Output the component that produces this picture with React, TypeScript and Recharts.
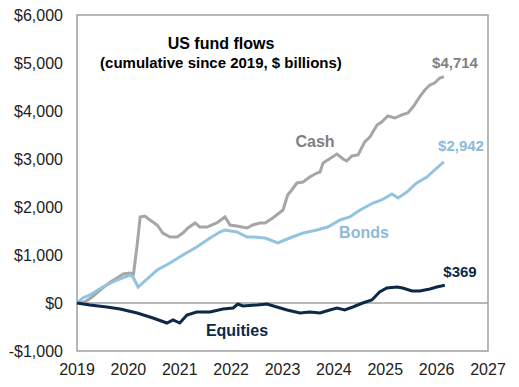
import { LineChart, Line, XAxis, YAxis, ReferenceLine, ReferenceArea } from "recharts";

// [year, $bn cumulative]
const cash: [number, number][] = [
  [2019.0, 0], [2019.15, 20], [2019.3, 130], [2019.5, 313], [2019.65, 440], [2019.78, 521],
  [2019.9, 604], [2020.03, 625], [2020.1, 604], [2020.17, 1200], [2020.23, 1792], [2020.32, 1812],
  [2020.42, 1729], [2020.56, 1625], [2020.67, 1458], [2020.81, 1375], [2020.95, 1375], [2021.06, 1458],
  [2021.16, 1562], [2021.3, 1667], [2021.39, 1583], [2021.53, 1583], [2021.72, 1667], [2021.88, 1792],
  [2021.98, 1625], [2022.11, 1604], [2022.31, 1562], [2022.42, 1625], [2022.56, 1667], [2022.66, 1667],
  [2022.81, 1771], [2023.01, 1937], [2023.1, 2250], [2023.18, 2354], [2023.28, 2500], [2023.4, 2521],
  [2023.53, 2625], [2023.67, 2708], [2023.73, 2729], [2023.79, 2917], [2023.88, 2979], [2024.06, 3104],
  [2024.18, 3000], [2024.25, 2958], [2024.35, 3062], [2024.47, 3083], [2024.6, 3354], [2024.7, 3458],
  [2024.84, 3708], [2024.93, 3771], [2025.05, 3896], [2025.19, 3854], [2025.32, 3917], [2025.44, 3958],
  [2025.54, 4083], [2025.67, 4292], [2025.77, 4437], [2025.87, 4542], [2025.96, 4583], [2026.06, 4687],
  [2026.14, 4714],
];

const bonds: [number, number][] = [
  [2019.0, 0], [2019.12, 110], [2019.25, 167], [2019.5, 333], [2019.78, 479], [2020.03, 583],
  [2020.09, 542], [2020.19, 333], [2020.28, 417], [2020.56, 687], [2020.81, 833], [2021.06, 1000],
  [2021.33, 1167], [2021.59, 1354], [2021.78, 1479], [2021.88, 1521], [2022.11, 1479], [2022.31, 1375],
  [2022.42, 1375], [2022.66, 1354], [2022.91, 1250], [2023.14, 1354], [2023.4, 1458], [2023.67, 1521],
  [2023.88, 1583], [2024.12, 1729], [2024.31, 1792], [2024.51, 1937], [2024.76, 2083], [2024.93, 2146],
  [2025.13, 2271], [2025.25, 2187], [2025.42, 2312], [2025.61, 2500], [2025.81, 2625], [2025.96, 2771],
  [2026.14, 2942],
];

const equities: [number, number][] = [
  [2019.0, 0], [2019.25, -42], [2019.58, -83], [2019.84, -125], [2020.17, -208], [2020.48, -312],
  [2020.75, -417], [2020.87, -354], [2021.0, -417], [2021.14, -250], [2021.33, -187], [2021.59, -187],
  [2021.84, -125], [2022.04, -104], [2022.13, -21], [2022.23, -62], [2022.5, -42], [2022.7, -21],
  [2022.89, -83], [2023.09, -146], [2023.34, -208], [2023.53, -187], [2023.73, -208], [2023.92, -146],
  [2024.06, -104], [2024.21, -146], [2024.37, -83], [2024.56, 0], [2024.74, 62], [2024.89, 229],
  [2025.03, 312], [2025.23, 333], [2025.34, 312], [2025.52, 250], [2025.67, 250], [2025.87, 292],
  [2026.0, 333], [2026.16, 369],
];

const yearTicks = [2019, 2020, 2021, 2022, 2023, 2024, 2025, 2026, 2027];
const valueTicks = [-1000, 0, 1000, 2000, 3000, 4000, 5000, 6000];

const toRows = (pts: [number, number][]) => pts.map(([t, v]) => ({ t, v }));

const font = "'Liberation Sans', Arial, sans-serif";
const CASH = "#a6a6a6";
const CASH_TXT = "#7f7f7f";
const BONDS = "#92c4e0";
const BONDS_TXT = "#8dbad6";
const EQ = "#0c2947";
const BORDER = "#a0a0a0";

const fmtMoney = (v: number) => (v < 0 ? "-$" : "$") + Math.abs(v).toLocaleString("en-US");

export default function App() {
  return (
    <div style={{ position: "absolute", left: 0, top: 0, width: 519, height: 387, background: "#fff", fontFamily: font }}>
      <LineChart width={519} height={387} margin={{ top: 15, right: 31, left: 0, bottom: 0 }}>
        <XAxis
          type="number"
          dataKey="t"
          domain={[2019, 2027]}
          ticks={yearTicks}
          allowDuplicatedCategory={false}
          height={36}
          axisLine={false}
          tickLine={false}
          tickSize={0}
          tickMargin={13}
          tick={{ fontSize: 16, fill: "#222", fontFamily: font }}
        />
        <YAxis
          type="number"
          domain={[-1000, 6000]}
          ticks={valueTicks}
          width={77}
          axisLine={false}
          tickLine={false}
          tickSize={0}
          tickMargin={14}
          tickFormatter={fmtMoney}
          tick={{ fontSize: 16, fill: "#222", fontFamily: font }}
        />
        <ReferenceArea x1={2019} x2={2027} y1={-1000} y2={6000} fill="none" stroke={BORDER} strokeWidth={1.5} />
        <ReferenceLine y={0} stroke={BORDER} strokeWidth={1.5} />
        <Line data={toRows(cash)} dataKey="v" type="linear" stroke={CASH} strokeWidth={3} dot={false} isAnimationActive={false} />
        <Line data={toRows(bonds)} dataKey="v" type="linear" stroke={BONDS} strokeWidth={3} dot={false} isAnimationActive={false} />
        <Line data={toRows(equities)} dataKey="v" type="linear" stroke={EQ} strokeWidth={3} dot={false} isAnimationActive={false} />
      </LineChart>
      <svg width={519} height={387} style={{ position: "absolute", left: 0, top: 0, pointerEvents: "none" }}>
        <g fontFamily={font} fontWeight="bold">
          <text x={221} y={49} textAnchor="middle" fontSize={16} fill="#000">US fund flows</text>
          <text x={221} y={68} textAnchor="middle" fontSize={15} fill="#000">(cumulative since 2019, $ billions)</text>
          <text x={315} y={147} textAnchor="middle" fontSize={16} fill={CASH_TXT}>Cash</text>
          <text x={455} y={68} textAnchor="middle" fontSize={15} fill={CASH_TXT}>$4,714</text>
          <text x={461} y={151} textAnchor="middle" fontSize={15} fill={BONDS_TXT}>$2,942</text>
          <text x={364} y={238} textAnchor="middle" fontSize={16} fill={BONDS_TXT}>Bonds</text>
          <text x={460} y={277} textAnchor="middle" fontSize={15} fill={EQ}>$369</text>
          <text x={237} y={336} textAnchor="middle" fontSize={16} fill={EQ}>Equities</text>
        </g>
      </svg>
    </div>
  );
}
